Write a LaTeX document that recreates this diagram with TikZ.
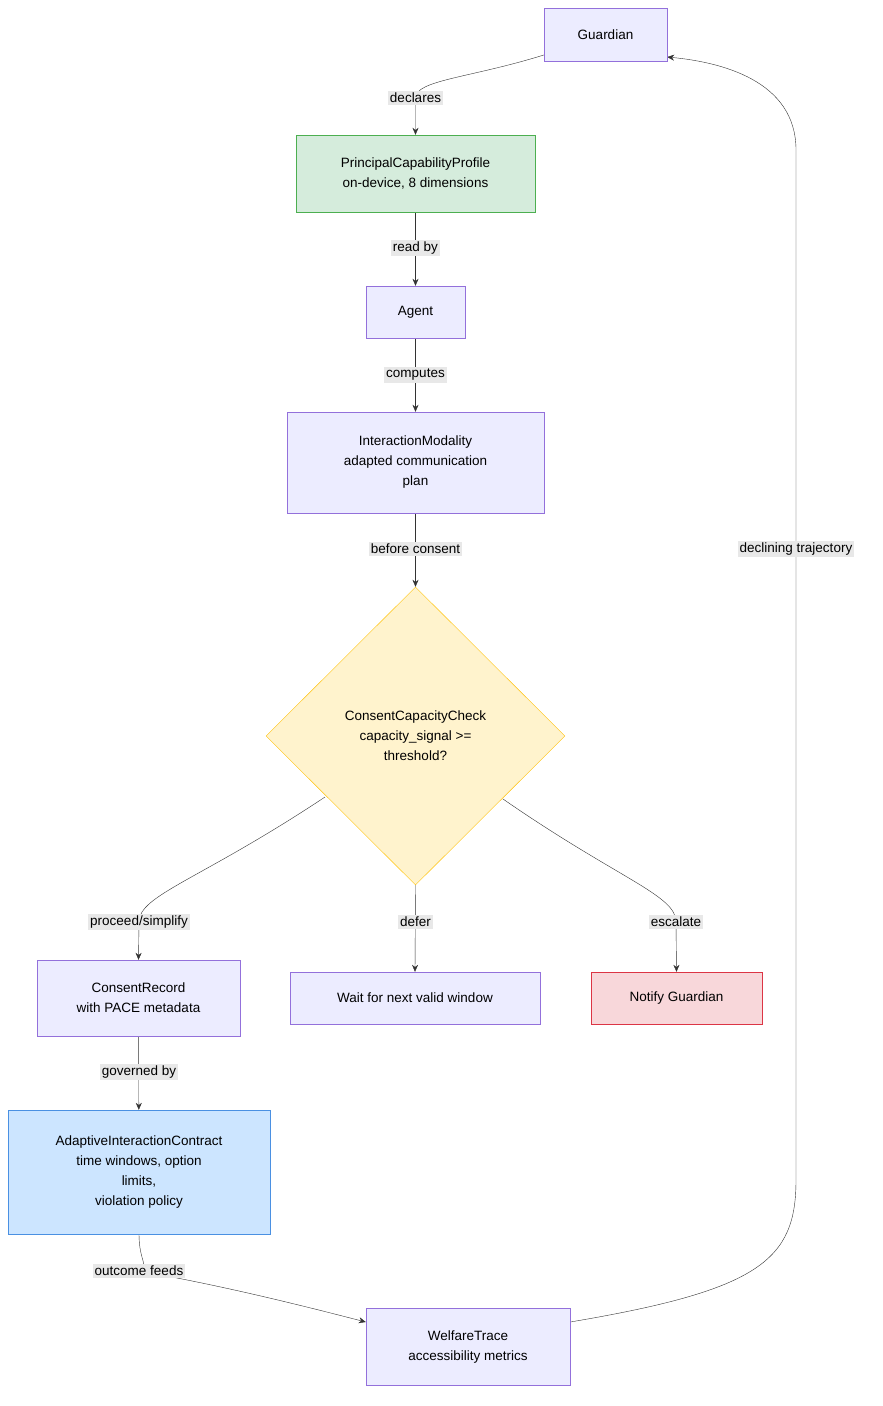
\documentclass[tikz,border=0pt]{standalone}
\usepackage{fontspec}
\setmainfont{Liberation Sans}
\usetikzlibrary{arrows.meta,positioning,shapes.geometric,calc,backgrounds}
\definecolor{boxfill}{HTML}{ECECFF}
\definecolor{boxline}{HTML}{9370DB}
\definecolor{lblfill}{HTML}{E8E8E8}
\definecolor{edgecol}{HTML}{333333}
\definecolor{greenfill}{HTML}{D5ECDC}
\definecolor{greenline}{HTML}{4CAF50}
\definecolor{yelfill}{HTML}{FFF3CD}
\definecolor{yelline}{HTML}{FFC107}
\definecolor{redfill}{HTML}{F8D7DA}
\definecolor{redline}{HTML}{DC3545}
\definecolor{bluefill}{HTML}{CCE5FF}
\definecolor{blueline}{HTML}{4A90E2}

\begin{document}
\begin{tikzpicture}[
    x=1pt, y=-1pt,
    font=\fontsize{13.5}{20}\selectfont,
    box/.style={draw=boxline, fill=boxfill, align=center, inner sep=0pt},
    lbl/.style={fill=lblfill, inner sep=2pt, text=black},
    edge/.style={draw=edgecol, -{Stealth[length=7pt,width=6pt]}},
]
\useasboundingbox (0,0) rectangle (883,1406);

\node[box, minimum width=123pt, minimum height=53pt] at (605.5,34.5) (guardian) {Guardian};
\node[box, draw=greenline, fill=greenfill, minimum width=239pt, minimum height=77pt] at (415.5,173.5) (profile) {PrincipalCapabilityProfile\\on-device, 8 dimensions};
\node[box, minimum width=99pt, minimum height=52pt] at (415.5,312) (agent) {Agent};
\node[box, minimum width=257pt, minimum height=101pt] at (415.5,462.5) (modality) {InteractionModality\\adapted communication\\plan};
\node[diamond, draw=yelline, fill=yelfill, align=center, inner sep=0pt,
      minimum width=299pt, minimum height=298pt] at (415.5,736) (check) {ConsentCapacityCheck\\capacity\_signal >=\\threshold?};
\node[box, minimum width=203pt, minimum height=76pt] at (138.5,998) (record) {ConsentRecord\\with PACE metadata};
\node[box, minimum width=250pt, minimum height=52pt] at (415,998) (wait) {Wait for next valid window};
\node[box, draw=redline, fill=redfill, minimum width=171pt, minimum height=52pt] at (676.5,998) (notify) {Notify Guardian};
\node[box, draw=blueline, fill=bluefill, minimum width=262pt, minimum height=124pt] at (139,1172) (contract) {AdaptiveInteractionContract\\time windows, option\\limits,\\violation policy};
\node[box, minimum width=204pt, minimum height=77pt] at (468,1346.5) (trace) {WelfareTrace\\accessibility metrics};

% edge labels
\node[lbl] at (415.5,98) (declares) {declares};
\node[lbl] at (415.5,248) (readby) {read by};
\node[lbl] at (415.5,375) (computes) {computes};
\node[lbl] at (415.5,549) (before) {before consent};
\node[lbl] at (139,922) (proceed) {proceed/simplify};
\node[lbl] at (415.5,922) (defer) {defer};
\node[lbl] at (676,922) (escalate) {escalate};
\node[lbl] at (139,1072) (governed) {governed by};
\node[lbl] at (139,1271) (outcome) {outcome feeds};
\node[lbl] at (796,549) (declining) {declining trajectory};

\begin{scope}[on background layer]
\draw[edge] (guardian.south west|-0,55) .. controls (470,78) and (415.5,80) .. (declares.center) -- (profile.north);
\draw[edge] (profile) -- (agent);
\draw[edge] (agent) -- (modality);
\draw[edge] (modality) -- (check.north);
\draw[edge] (325,797) .. controls (200,880) and (139,895) .. (proceed.center) -- (record.north);
\draw[edge] (check.south) -- (wait.north);
\draw[edge] (503,799) .. controls (620,880) and (676,895) .. (escalate.center) -- (notify.north);
\draw[edge] (record) -- (contract);
\draw[edge] (contract.south) .. controls (139,1262) and (150,1266) .. (outcome.center) .. controls (220,1285) and (300,1305) .. (trace.west|-0,1322);
\draw[edge] (trace.east|-0,1322) .. controls (760,1290) and (796,1260) .. (796,1180) -- (796,150) .. controls (796,80) and (720,62) .. (guardian.east|-0,57);
\end{scope}
\end{tikzpicture}
\end{document}
